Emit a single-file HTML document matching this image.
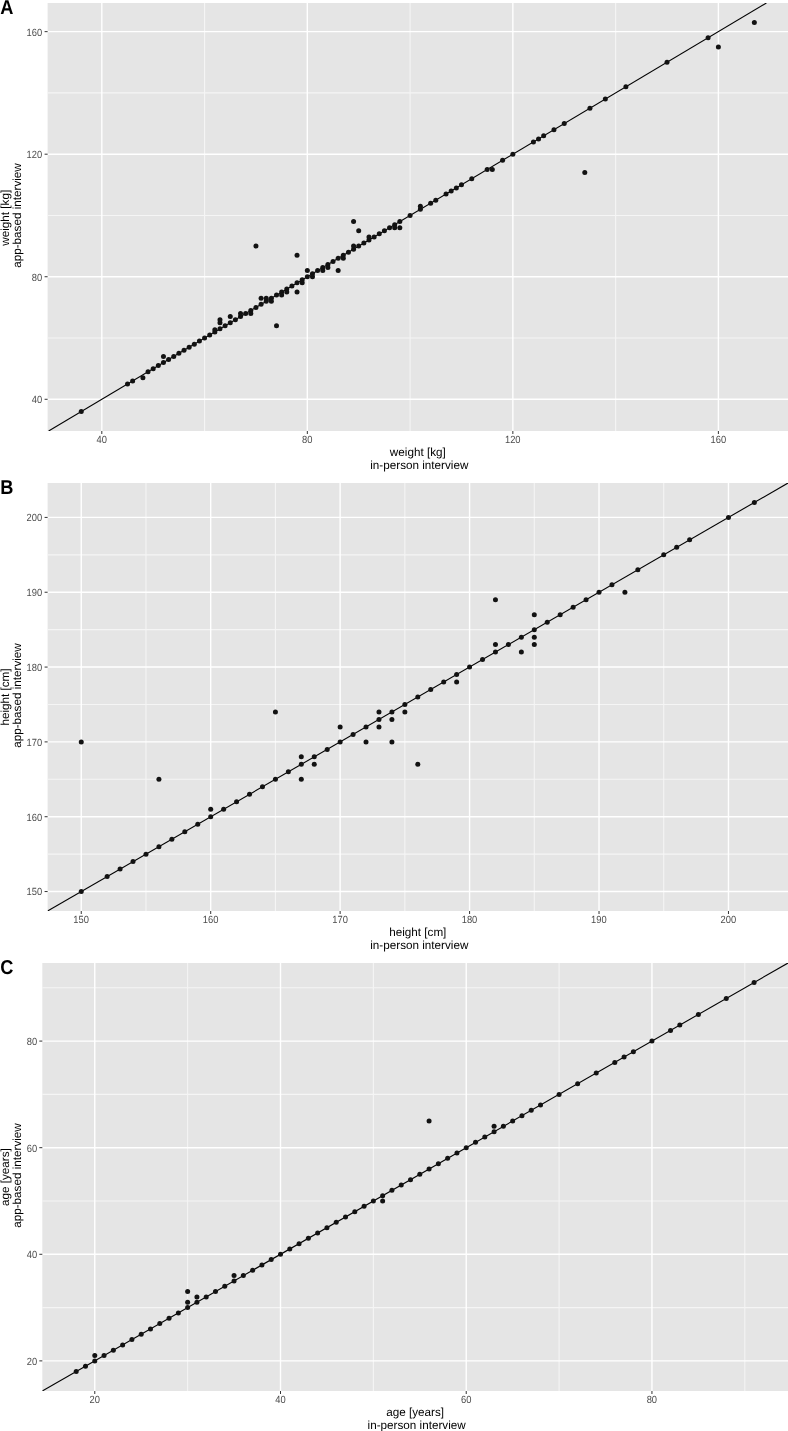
<!DOCTYPE html><html><head><meta charset="utf-8"><style>html,body{margin:0;padding:0;background:#fff;overflow:hidden;width:788px;height:1431px;}svg{display:block;will-change:transform;}text{font-family:"Liberation Sans",sans-serif;text-rendering:geometricPrecision;}</style></head><body>
<svg width="788" height="1431" viewBox="0 0 788 1431">
<rect x="0" y="0" width="788" height="1431" fill="#fff"/>
<clipPath id="c0"><rect x="47.6" y="3" width="740.4" height="428"/></clipPath>
<rect x="47.6" y="3" width="740.4" height="428" fill="#E5E5E5"/>
<line x1="47.6" x2="788" y1="338.02" y2="338.02" stroke="#F5F5F5" stroke-width="1.1"/>
<line y1="3" y2="431" x1="204.57" x2="204.57" stroke="#F5F5F5" stroke-width="1.1"/>
<line x1="47.6" x2="788" y1="215.47" y2="215.47" stroke="#F5F5F5" stroke-width="1.1"/>
<line y1="3" y2="431" x1="410.09" x2="410.09" stroke="#F5F5F5" stroke-width="1.1"/>
<line x1="47.6" x2="788" y1="92.92" y2="92.92" stroke="#F5F5F5" stroke-width="1.1"/>
<line y1="3" y2="431" x1="615.62" x2="615.62" stroke="#F5F5F5" stroke-width="1.1"/>
<line x1="47.6" x2="788" y1="399.29" y2="399.29" stroke="#FFFFFF" stroke-width="1.4"/>
<line y1="3" y2="431" x1="101.81" x2="101.81" stroke="#FFFFFF" stroke-width="1.4"/>
<line x1="47.6" x2="788" y1="276.74" y2="276.74" stroke="#FFFFFF" stroke-width="1.4"/>
<line y1="3" y2="431" x1="307.33" x2="307.33" stroke="#FFFFFF" stroke-width="1.4"/>
<line x1="47.6" x2="788" y1="154.19" y2="154.19" stroke="#FFFFFF" stroke-width="1.4"/>
<line y1="3" y2="431" x1="512.85" x2="512.85" stroke="#FFFFFF" stroke-width="1.4"/>
<line x1="47.6" x2="788" y1="31.65" y2="31.65" stroke="#FFFFFF" stroke-width="1.4"/>
<line y1="3" y2="431" x1="718.38" x2="718.38" stroke="#FFFFFF" stroke-width="1.4"/>
<line x1="48.63" y1="431" x2="766.42" y2="3" stroke="#000000" stroke-width="1.1" clip-path="url(#c0)"/>
<g fill="#121212"><circle cx="81.25" cy="411.55" r="2.5"/><circle cx="127.5" cy="383.97" r="2.5"/><circle cx="132.64" cy="380.91" r="2.5"/><circle cx="142.91" cy="377.84" r="2.5"/><circle cx="148.05" cy="371.72" r="2.5"/><circle cx="153.19" cy="368.65" r="2.5"/><circle cx="158.33" cy="365.59" r="2.5"/><circle cx="163.46" cy="362.53" r="2.5"/><circle cx="163.46" cy="356.4" r="2.5"/><circle cx="168.6" cy="359.46" r="2.5"/><circle cx="173.74" cy="356.4" r="2.5"/><circle cx="178.88" cy="353.34" r="2.5"/><circle cx="184.02" cy="350.27" r="2.5"/><circle cx="189.15" cy="347.21" r="2.5"/><circle cx="194.29" cy="344.14" r="2.5"/><circle cx="199.43" cy="341.08" r="2.5"/><circle cx="204.57" cy="338.02" r="2.5"/><circle cx="209.71" cy="334.95" r="2.5"/><circle cx="214.85" cy="331.89" r="2.5"/><circle cx="214.85" cy="329.74" r="2.5"/><circle cx="219.98" cy="328.83" r="2.5"/><circle cx="219.98" cy="322.7" r="2.5"/><circle cx="219.98" cy="319.63" r="2.5"/><circle cx="225.12" cy="325.76" r="2.5"/><circle cx="230.26" cy="322.7" r="2.5"/><circle cx="230.26" cy="316.57" r="2.5"/><circle cx="235.4" cy="319.63" r="2.5"/><circle cx="240.54" cy="316.57" r="2.5"/><circle cx="240.54" cy="313.51" r="2.5"/><circle cx="245.67" cy="313.51" r="2.5"/><circle cx="250.81" cy="310.44" r="2.5"/><circle cx="250.81" cy="313.51" r="2.5"/><circle cx="255.95" cy="307.38" r="2.5"/><circle cx="255.95" cy="246.11" r="2.5"/><circle cx="261.09" cy="304.32" r="2.5"/><circle cx="261.09" cy="298.19" r="2.5"/><circle cx="266.23" cy="301.25" r="2.5"/><circle cx="266.23" cy="298.19" r="2.5"/><circle cx="271.36" cy="298.19" r="2.5"/><circle cx="271.36" cy="301.25" r="2.5"/><circle cx="276.5" cy="295.12" r="2.5"/><circle cx="276.5" cy="325.76" r="2.5"/><circle cx="281.64" cy="292.06" r="2.5"/><circle cx="281.64" cy="295.12" r="2.5"/><circle cx="286.78" cy="289" r="2.5"/><circle cx="286.78" cy="292.06" r="2.5"/><circle cx="291.92" cy="285.93" r="2.5"/><circle cx="297.05" cy="282.87" r="2.5"/><circle cx="297.05" cy="255.3" r="2.5"/><circle cx="297.05" cy="292.06" r="2.5"/><circle cx="302.19" cy="279.81" r="2.5"/><circle cx="302.19" cy="282.87" r="2.5"/><circle cx="307.33" cy="276.74" r="2.5"/><circle cx="307.33" cy="270.61" r="2.5"/><circle cx="312.47" cy="273.68" r="2.5"/><circle cx="312.47" cy="276.74" r="2.5"/><circle cx="317.61" cy="270.61" r="2.5"/><circle cx="322.75" cy="267.55" r="2.5"/><circle cx="322.75" cy="270.61" r="2.5"/><circle cx="327.88" cy="264.49" r="2.5"/><circle cx="327.88" cy="267.55" r="2.5"/><circle cx="333.02" cy="261.42" r="2.5"/><circle cx="338.16" cy="258.36" r="2.5"/><circle cx="338.16" cy="270.61" r="2.5"/><circle cx="343.3" cy="255.3" r="2.5"/><circle cx="343.3" cy="258.36" r="2.5"/><circle cx="348.44" cy="252.23" r="2.5"/><circle cx="353.57" cy="249.17" r="2.5"/><circle cx="353.57" cy="246.11" r="2.5"/><circle cx="353.57" cy="221.6" r="2.5"/><circle cx="358.71" cy="246.11" r="2.5"/><circle cx="358.71" cy="230.79" r="2.5"/><circle cx="363.85" cy="243.04" r="2.5"/><circle cx="368.99" cy="239.98" r="2.5"/><circle cx="368.99" cy="236.91" r="2.5"/><circle cx="374.13" cy="236.91" r="2.5"/><circle cx="379.26" cy="233.85" r="2.5"/><circle cx="384.4" cy="230.79" r="2.5"/><circle cx="389.54" cy="227.72" r="2.5"/><circle cx="394.68" cy="224.66" r="2.5"/><circle cx="394.68" cy="227.72" r="2.5"/><circle cx="399.82" cy="221.6" r="2.5"/><circle cx="399.82" cy="227.72" r="2.5"/><circle cx="410.09" cy="215.47" r="2.5"/><circle cx="420.37" cy="209.34" r="2.5"/><circle cx="420.37" cy="206.28" r="2.5"/><circle cx="430.65" cy="203.21" r="2.5"/><circle cx="435.78" cy="200.15" r="2.5"/><circle cx="446.06" cy="194.02" r="2.5"/><circle cx="451.2" cy="190.96" r="2.5"/><circle cx="456.34" cy="187.89" r="2.5"/><circle cx="461.47" cy="184.83" r="2.5"/><circle cx="471.75" cy="178.7" r="2.5"/><circle cx="487.16" cy="169.51" r="2.5"/><circle cx="492.3" cy="169.51" r="2.5"/><circle cx="502.58" cy="160.32" r="2.5"/><circle cx="512.85" cy="154.19" r="2.5"/><circle cx="533.41" cy="141.94" r="2.5"/><circle cx="538.55" cy="138.88" r="2.5"/><circle cx="543.68" cy="135.81" r="2.5"/><circle cx="553.96" cy="129.68" r="2.5"/><circle cx="564.24" cy="123.56" r="2.5"/><circle cx="584.79" cy="172.58" r="2.5"/><circle cx="589.93" cy="108.24" r="2.5"/><circle cx="605.34" cy="99.05" r="2.5"/><circle cx="625.89" cy="86.79" r="2.5"/><circle cx="667" cy="62.28" r="2.5"/><circle cx="708.1" cy="37.77" r="2.5"/><circle cx="718.38" cy="46.96" r="2.5"/><circle cx="754.35" cy="22.45" r="2.5"/></g>
<line x1="44.6" x2="47.6" y1="399.29" y2="399.29" stroke="#333333" stroke-width="1"/>
<line y1="431" y2="434" x1="101.81" x2="101.81" stroke="#333333" stroke-width="1"/>
<text transform="translate(42.2,403.19) scale(0.9,1)" font-size="10.4" fill="#4D4D4D" text-anchor="end">40</text>
<text transform="translate(101.71,443.3) scale(0.9,1)" font-size="10.4" fill="#4D4D4D" text-anchor="middle">40</text>
<line x1="44.6" x2="47.6" y1="276.74" y2="276.74" stroke="#333333" stroke-width="1"/>
<line y1="431" y2="434" x1="307.33" x2="307.33" stroke="#333333" stroke-width="1"/>
<text transform="translate(42.2,280.64) scale(0.9,1)" font-size="10.4" fill="#4D4D4D" text-anchor="end">80</text>
<text transform="translate(307.23,443.3) scale(0.9,1)" font-size="10.4" fill="#4D4D4D" text-anchor="middle">80</text>
<line x1="44.6" x2="47.6" y1="154.19" y2="154.19" stroke="#333333" stroke-width="1"/>
<line y1="431" y2="434" x1="512.85" x2="512.85" stroke="#333333" stroke-width="1"/>
<text transform="translate(42.2,158.09) scale(0.9,1)" font-size="10.4" fill="#4D4D4D" text-anchor="end">120</text>
<text transform="translate(512.75,443.3) scale(0.9,1)" font-size="10.4" fill="#4D4D4D" text-anchor="middle">120</text>
<line x1="44.6" x2="47.6" y1="31.65" y2="31.65" stroke="#333333" stroke-width="1"/>
<line y1="431" y2="434" x1="718.38" x2="718.38" stroke="#333333" stroke-width="1"/>
<text transform="translate(42.2,35.55) scale(0.9,1)" font-size="10.4" fill="#4D4D4D" text-anchor="end">160</text>
<text transform="translate(718.28,443.3) scale(0.9,1)" font-size="10.4" fill="#4D4D4D" text-anchor="middle">160</text>
<text x="417.8" y="456.3" font-size="11.7" fill="#000000" text-anchor="middle">weight [kg]</text>
<text x="419.3" y="468.7" font-size="11.7" fill="#000000" text-anchor="middle">in-person interview</text>
<text transform="translate(8.8,217.8) rotate(-90)" font-size="11.7" fill="#000000" text-anchor="middle">weight [kg]</text>
<text transform="translate(21.2,215.5) rotate(-90)" font-size="11.7" fill="#000000" text-anchor="middle">app-based interview</text>
<text transform="translate(0.2,13.6) scale(0.91,1)" font-size="20" font-weight="bold" fill="#000">A</text>
<clipPath id="c1"><rect x="47.6" y="483" width="740.4" height="428"/></clipPath>
<rect x="47.6" y="483" width="740.4" height="428" fill="#E5E5E5"/>
<line x1="47.6" x2="788" y1="854.13" y2="854.13" stroke="#F5F5F5" stroke-width="1.1"/>
<line y1="483" y2="911" x1="145.97" x2="145.97" stroke="#F5F5F5" stroke-width="1.1"/>
<line x1="47.6" x2="788" y1="779.31" y2="779.31" stroke="#F5F5F5" stroke-width="1.1"/>
<line y1="483" y2="911" x1="275.42" x2="275.42" stroke="#F5F5F5" stroke-width="1.1"/>
<line x1="47.6" x2="788" y1="704.48" y2="704.48" stroke="#F5F5F5" stroke-width="1.1"/>
<line y1="483" y2="911" x1="404.86" x2="404.86" stroke="#F5F5F5" stroke-width="1.1"/>
<line x1="47.6" x2="788" y1="629.66" y2="629.66" stroke="#F5F5F5" stroke-width="1.1"/>
<line y1="483" y2="911" x1="534.3" x2="534.3" stroke="#F5F5F5" stroke-width="1.1"/>
<line x1="47.6" x2="788" y1="554.83" y2="554.83" stroke="#F5F5F5" stroke-width="1.1"/>
<line y1="483" y2="911" x1="663.74" x2="663.74" stroke="#F5F5F5" stroke-width="1.1"/>
<line x1="47.6" x2="788" y1="891.55" y2="891.55" stroke="#FFFFFF" stroke-width="1.4"/>
<line y1="483" y2="911" x1="81.25" x2="81.25" stroke="#FFFFFF" stroke-width="1.4"/>
<line x1="47.6" x2="788" y1="816.72" y2="816.72" stroke="#FFFFFF" stroke-width="1.4"/>
<line y1="483" y2="911" x1="210.7" x2="210.7" stroke="#FFFFFF" stroke-width="1.4"/>
<line x1="47.6" x2="788" y1="741.9" y2="741.9" stroke="#FFFFFF" stroke-width="1.4"/>
<line y1="483" y2="911" x1="340.14" x2="340.14" stroke="#FFFFFF" stroke-width="1.4"/>
<line x1="47.6" x2="788" y1="667.07" y2="667.07" stroke="#FFFFFF" stroke-width="1.4"/>
<line y1="483" y2="911" x1="469.58" x2="469.58" stroke="#FFFFFF" stroke-width="1.4"/>
<line x1="47.6" x2="788" y1="592.24" y2="592.24" stroke="#FFFFFF" stroke-width="1.4"/>
<line y1="483" y2="911" x1="599.02" x2="599.02" stroke="#FFFFFF" stroke-width="1.4"/>
<line x1="47.6" x2="788" y1="517.42" y2="517.42" stroke="#FFFFFF" stroke-width="1.4"/>
<line y1="483" y2="911" x1="728.46" x2="728.46" stroke="#FFFFFF" stroke-width="1.4"/>
<line x1="47.6" y1="911" x2="788" y2="483" stroke="#000000" stroke-width="1.1" clip-path="url(#c1)"/>
<g fill="#121212"><circle cx="81.25" cy="891.55" r="2.5"/><circle cx="81.25" cy="741.9" r="2.5"/><circle cx="107.14" cy="876.58" r="2.5"/><circle cx="120.09" cy="869.1" r="2.5"/><circle cx="133.03" cy="861.62" r="2.5"/><circle cx="145.97" cy="854.13" r="2.5"/><circle cx="158.92" cy="846.65" r="2.5"/><circle cx="158.92" cy="779.31" r="2.5"/><circle cx="171.86" cy="839.17" r="2.5"/><circle cx="184.81" cy="831.69" r="2.5"/><circle cx="197.75" cy="824.2" r="2.5"/><circle cx="210.7" cy="816.72" r="2.5"/><circle cx="210.7" cy="809.24" r="2.5"/><circle cx="223.64" cy="809.24" r="2.5"/><circle cx="236.58" cy="801.76" r="2.5"/><circle cx="249.53" cy="794.27" r="2.5"/><circle cx="262.47" cy="786.79" r="2.5"/><circle cx="275.42" cy="779.31" r="2.5"/><circle cx="275.42" cy="711.97" r="2.5"/><circle cx="288.36" cy="771.83" r="2.5"/><circle cx="301.3" cy="764.34" r="2.5"/><circle cx="301.3" cy="756.86" r="2.5"/><circle cx="301.3" cy="779.31" r="2.5"/><circle cx="314.25" cy="756.86" r="2.5"/><circle cx="314.25" cy="764.34" r="2.5"/><circle cx="327.19" cy="749.38" r="2.5"/><circle cx="340.14" cy="741.9" r="2.5"/><circle cx="340.14" cy="726.93" r="2.5"/><circle cx="353.08" cy="734.41" r="2.5"/><circle cx="366.02" cy="726.93" r="2.5"/><circle cx="366.02" cy="741.9" r="2.5"/><circle cx="378.97" cy="719.45" r="2.5"/><circle cx="378.97" cy="711.97" r="2.5"/><circle cx="378.97" cy="726.93" r="2.5"/><circle cx="391.91" cy="711.97" r="2.5"/><circle cx="391.91" cy="719.45" r="2.5"/><circle cx="391.91" cy="741.9" r="2.5"/><circle cx="404.86" cy="704.48" r="2.5"/><circle cx="404.86" cy="711.97" r="2.5"/><circle cx="417.8" cy="697" r="2.5"/><circle cx="417.8" cy="764.34" r="2.5"/><circle cx="430.74" cy="689.52" r="2.5"/><circle cx="443.69" cy="682.03" r="2.5"/><circle cx="456.63" cy="674.55" r="2.5"/><circle cx="456.63" cy="682.03" r="2.5"/><circle cx="469.58" cy="667.07" r="2.5"/><circle cx="482.52" cy="659.59" r="2.5"/><circle cx="495.46" cy="652.1" r="2.5"/><circle cx="495.46" cy="644.62" r="2.5"/><circle cx="495.46" cy="599.73" r="2.5"/><circle cx="508.41" cy="644.62" r="2.5"/><circle cx="521.35" cy="637.14" r="2.5"/><circle cx="521.35" cy="652.1" r="2.5"/><circle cx="534.3" cy="629.66" r="2.5"/><circle cx="534.3" cy="637.14" r="2.5"/><circle cx="534.3" cy="644.62" r="2.5"/><circle cx="534.3" cy="614.69" r="2.5"/><circle cx="547.24" cy="622.17" r="2.5"/><circle cx="560.18" cy="614.69" r="2.5"/><circle cx="573.13" cy="607.21" r="2.5"/><circle cx="586.07" cy="599.73" r="2.5"/><circle cx="599.02" cy="592.24" r="2.5"/><circle cx="611.96" cy="584.76" r="2.5"/><circle cx="624.9" cy="592.24" r="2.5"/><circle cx="637.85" cy="569.8" r="2.5"/><circle cx="663.74" cy="554.83" r="2.5"/><circle cx="676.68" cy="547.35" r="2.5"/><circle cx="689.63" cy="539.87" r="2.5"/><circle cx="728.46" cy="517.42" r="2.5"/><circle cx="754.35" cy="502.45" r="2.5"/></g>
<line x1="44.6" x2="47.6" y1="891.55" y2="891.55" stroke="#333333" stroke-width="1"/>
<line y1="911" y2="914" x1="81.25" x2="81.25" stroke="#333333" stroke-width="1"/>
<text transform="translate(42.2,895.45) scale(0.9,1)" font-size="10.4" fill="#4D4D4D" text-anchor="end">150</text>
<text transform="translate(81.15,923.3) scale(0.9,1)" font-size="10.4" fill="#4D4D4D" text-anchor="middle">150</text>
<line x1="44.6" x2="47.6" y1="816.72" y2="816.72" stroke="#333333" stroke-width="1"/>
<line y1="911" y2="914" x1="210.7" x2="210.7" stroke="#333333" stroke-width="1"/>
<text transform="translate(42.2,820.62) scale(0.9,1)" font-size="10.4" fill="#4D4D4D" text-anchor="end">160</text>
<text transform="translate(210.6,923.3) scale(0.9,1)" font-size="10.4" fill="#4D4D4D" text-anchor="middle">160</text>
<line x1="44.6" x2="47.6" y1="741.9" y2="741.9" stroke="#333333" stroke-width="1"/>
<line y1="911" y2="914" x1="340.14" x2="340.14" stroke="#333333" stroke-width="1"/>
<text transform="translate(42.2,745.8) scale(0.9,1)" font-size="10.4" fill="#4D4D4D" text-anchor="end">170</text>
<text transform="translate(340.04,923.3) scale(0.9,1)" font-size="10.4" fill="#4D4D4D" text-anchor="middle">170</text>
<line x1="44.6" x2="47.6" y1="667.07" y2="667.07" stroke="#333333" stroke-width="1"/>
<line y1="911" y2="914" x1="469.58" x2="469.58" stroke="#333333" stroke-width="1"/>
<text transform="translate(42.2,670.97) scale(0.9,1)" font-size="10.4" fill="#4D4D4D" text-anchor="end">180</text>
<text transform="translate(469.48,923.3) scale(0.9,1)" font-size="10.4" fill="#4D4D4D" text-anchor="middle">180</text>
<line x1="44.6" x2="47.6" y1="592.24" y2="592.24" stroke="#333333" stroke-width="1"/>
<line y1="911" y2="914" x1="599.02" x2="599.02" stroke="#333333" stroke-width="1"/>
<text transform="translate(42.2,596.14) scale(0.9,1)" font-size="10.4" fill="#4D4D4D" text-anchor="end">190</text>
<text transform="translate(598.92,923.3) scale(0.9,1)" font-size="10.4" fill="#4D4D4D" text-anchor="middle">190</text>
<line x1="44.6" x2="47.6" y1="517.42" y2="517.42" stroke="#333333" stroke-width="1"/>
<line y1="911" y2="914" x1="728.46" x2="728.46" stroke="#333333" stroke-width="1"/>
<text transform="translate(42.2,521.32) scale(0.9,1)" font-size="10.4" fill="#4D4D4D" text-anchor="end">200</text>
<text transform="translate(728.36,923.3) scale(0.9,1)" font-size="10.4" fill="#4D4D4D" text-anchor="middle">200</text>
<text x="417.8" y="936.3" font-size="11.7" fill="#000000" text-anchor="middle">height [cm]</text>
<text x="419.3" y="948.7" font-size="11.7" fill="#000000" text-anchor="middle">in-person interview</text>
<text transform="translate(8.8,697) rotate(-90)" font-size="11.7" fill="#000000" text-anchor="middle">height [cm]</text>
<text transform="translate(21.2,695.5) rotate(-90)" font-size="11.7" fill="#000000" text-anchor="middle">app-based interview</text>
<text transform="translate(0.2,494.3) scale(0.91,1)" font-size="20" font-weight="bold" fill="#000">B</text>
<clipPath id="c2"><rect x="42.3" y="963" width="745.7" height="428"/></clipPath>
<rect x="42.3" y="963" width="745.7" height="428" fill="#E5E5E5"/>
<line x1="42.3" x2="788" y1="1307.59" y2="1307.59" stroke="#F5F5F5" stroke-width="1.1"/>
<line y1="963" y2="1391" x1="187.63" x2="187.63" stroke="#F5F5F5" stroke-width="1.1"/>
<line x1="42.3" x2="788" y1="1200.99" y2="1200.99" stroke="#F5F5F5" stroke-width="1.1"/>
<line y1="963" y2="1391" x1="373.36" x2="373.36" stroke="#F5F5F5" stroke-width="1.1"/>
<line x1="42.3" x2="788" y1="1094.38" y2="1094.38" stroke="#F5F5F5" stroke-width="1.1"/>
<line y1="963" y2="1391" x1="559.09" x2="559.09" stroke="#F5F5F5" stroke-width="1.1"/>
<line x1="42.3" x2="788" y1="987.78" y2="987.78" stroke="#F5F5F5" stroke-width="1.1"/>
<line y1="963" y2="1391" x1="744.82" x2="744.82" stroke="#F5F5F5" stroke-width="1.1"/>
<line x1="42.3" x2="788" y1="1360.89" y2="1360.89" stroke="#FFFFFF" stroke-width="1.4"/>
<line y1="963" y2="1391" x1="94.77" x2="94.77" stroke="#FFFFFF" stroke-width="1.4"/>
<line x1="42.3" x2="788" y1="1254.29" y2="1254.29" stroke="#FFFFFF" stroke-width="1.4"/>
<line y1="963" y2="1391" x1="280.5" x2="280.5" stroke="#FFFFFF" stroke-width="1.4"/>
<line x1="42.3" x2="788" y1="1147.68" y2="1147.68" stroke="#FFFFFF" stroke-width="1.4"/>
<line y1="963" y2="1391" x1="466.23" x2="466.23" stroke="#FFFFFF" stroke-width="1.4"/>
<line x1="42.3" x2="788" y1="1041.08" y2="1041.08" stroke="#FFFFFF" stroke-width="1.4"/>
<line y1="963" y2="1391" x1="651.95" x2="651.95" stroke="#FFFFFF" stroke-width="1.4"/>
<line x1="42.3" y1="1391" x2="788" y2="963" stroke="#000000" stroke-width="1.1" clip-path="url(#c2)"/>
<g fill="#121212"><circle cx="76.2" cy="1371.55" r="2.5"/><circle cx="85.48" cy="1366.22" r="2.5"/><circle cx="94.77" cy="1360.89" r="2.5"/><circle cx="94.77" cy="1355.56" r="2.5"/><circle cx="104.05" cy="1355.56" r="2.5"/><circle cx="113.34" cy="1350.23" r="2.5"/><circle cx="122.63" cy="1344.9" r="2.5"/><circle cx="131.91" cy="1339.57" r="2.5"/><circle cx="141.2" cy="1334.24" r="2.5"/><circle cx="150.49" cy="1328.91" r="2.5"/><circle cx="159.77" cy="1323.58" r="2.5"/><circle cx="169.06" cy="1318.25" r="2.5"/><circle cx="178.35" cy="1312.92" r="2.5"/><circle cx="187.63" cy="1307.59" r="2.5"/><circle cx="187.63" cy="1302.26" r="2.5"/><circle cx="187.63" cy="1291.6" r="2.5"/><circle cx="196.92" cy="1302.26" r="2.5"/><circle cx="196.92" cy="1296.93" r="2.5"/><circle cx="206.21" cy="1296.93" r="2.5"/><circle cx="215.49" cy="1291.6" r="2.5"/><circle cx="224.78" cy="1286.27" r="2.5"/><circle cx="234.06" cy="1280.94" r="2.5"/><circle cx="234.06" cy="1275.61" r="2.5"/><circle cx="243.35" cy="1275.61" r="2.5"/><circle cx="252.64" cy="1270.28" r="2.5"/><circle cx="261.92" cy="1264.95" r="2.5"/><circle cx="271.21" cy="1259.62" r="2.5"/><circle cx="280.5" cy="1254.29" r="2.5"/><circle cx="289.78" cy="1248.96" r="2.5"/><circle cx="299.07" cy="1243.63" r="2.5"/><circle cx="308.36" cy="1238.3" r="2.5"/><circle cx="317.64" cy="1232.97" r="2.5"/><circle cx="326.93" cy="1227.64" r="2.5"/><circle cx="336.22" cy="1222.31" r="2.5"/><circle cx="345.5" cy="1216.98" r="2.5"/><circle cx="354.79" cy="1211.65" r="2.5"/><circle cx="364.07" cy="1206.32" r="2.5"/><circle cx="373.36" cy="1200.99" r="2.5"/><circle cx="382.65" cy="1195.66" r="2.5"/><circle cx="382.65" cy="1200.99" r="2.5"/><circle cx="391.93" cy="1190.33" r="2.5"/><circle cx="401.22" cy="1185" r="2.5"/><circle cx="410.51" cy="1179.67" r="2.5"/><circle cx="419.79" cy="1174.33" r="2.5"/><circle cx="429.08" cy="1169" r="2.5"/><circle cx="429.08" cy="1121.03" r="2.5"/><circle cx="438.37" cy="1163.67" r="2.5"/><circle cx="447.65" cy="1158.34" r="2.5"/><circle cx="456.94" cy="1153.01" r="2.5"/><circle cx="466.23" cy="1147.68" r="2.5"/><circle cx="475.51" cy="1142.35" r="2.5"/><circle cx="484.8" cy="1137.02" r="2.5"/><circle cx="494.08" cy="1131.69" r="2.5"/><circle cx="494.08" cy="1126.36" r="2.5"/><circle cx="503.37" cy="1126.36" r="2.5"/><circle cx="512.66" cy="1121.03" r="2.5"/><circle cx="521.94" cy="1115.7" r="2.5"/><circle cx="531.23" cy="1110.37" r="2.5"/><circle cx="540.52" cy="1105.04" r="2.5"/><circle cx="559.09" cy="1094.38" r="2.5"/><circle cx="577.66" cy="1083.72" r="2.5"/><circle cx="596.24" cy="1073.06" r="2.5"/><circle cx="614.81" cy="1062.4" r="2.5"/><circle cx="624.09" cy="1057.07" r="2.5"/><circle cx="633.38" cy="1051.74" r="2.5"/><circle cx="651.95" cy="1041.08" r="2.5"/><circle cx="670.53" cy="1030.42" r="2.5"/><circle cx="679.81" cy="1025.09" r="2.5"/><circle cx="698.39" cy="1014.43" r="2.5"/><circle cx="726.25" cy="998.44" r="2.5"/><circle cx="754.1" cy="982.45" r="2.5"/></g>
<line x1="39.3" x2="42.3" y1="1360.89" y2="1360.89" stroke="#333333" stroke-width="1"/>
<line y1="1391" y2="1394" x1="94.77" x2="94.77" stroke="#333333" stroke-width="1"/>
<text transform="translate(37.1,1364.79) scale(0.9,1)" font-size="10.4" fill="#4D4D4D" text-anchor="end">20</text>
<text transform="translate(94.67,1403.3) scale(0.9,1)" font-size="10.4" fill="#4D4D4D" text-anchor="middle">20</text>
<line x1="39.3" x2="42.3" y1="1254.29" y2="1254.29" stroke="#333333" stroke-width="1"/>
<line y1="1391" y2="1394" x1="280.5" x2="280.5" stroke="#333333" stroke-width="1"/>
<text transform="translate(37.1,1258.19) scale(0.9,1)" font-size="10.4" fill="#4D4D4D" text-anchor="end">40</text>
<text transform="translate(280.4,1403.3) scale(0.9,1)" font-size="10.4" fill="#4D4D4D" text-anchor="middle">40</text>
<line x1="39.3" x2="42.3" y1="1147.68" y2="1147.68" stroke="#333333" stroke-width="1"/>
<line y1="1391" y2="1394" x1="466.23" x2="466.23" stroke="#333333" stroke-width="1"/>
<text transform="translate(37.1,1151.58) scale(0.9,1)" font-size="10.4" fill="#4D4D4D" text-anchor="end">60</text>
<text transform="translate(466.13,1403.3) scale(0.9,1)" font-size="10.4" fill="#4D4D4D" text-anchor="middle">60</text>
<line x1="39.3" x2="42.3" y1="1041.08" y2="1041.08" stroke="#333333" stroke-width="1"/>
<line y1="1391" y2="1394" x1="651.95" x2="651.95" stroke="#333333" stroke-width="1"/>
<text transform="translate(37.1,1044.98) scale(0.9,1)" font-size="10.4" fill="#4D4D4D" text-anchor="end">80</text>
<text transform="translate(651.85,1403.3) scale(0.9,1)" font-size="10.4" fill="#4D4D4D" text-anchor="middle">80</text>
<text x="415.15" y="1416.3" font-size="11.7" fill="#000000" text-anchor="middle">age [years]</text>
<text x="416.65" y="1428.7" font-size="11.7" fill="#000000" text-anchor="middle">in-person interview</text>
<text transform="translate(8.8,1177.1) rotate(-90)" font-size="11.7" fill="#000000" text-anchor="middle">age [years]</text>
<text transform="translate(21.2,1175.5) rotate(-90)" font-size="11.7" fill="#000000" text-anchor="middle">app-based interview</text>
<text transform="translate(0.2,973.7) scale(0.91,1)" font-size="20" font-weight="bold" fill="#000">C</text>
</svg></body></html>
